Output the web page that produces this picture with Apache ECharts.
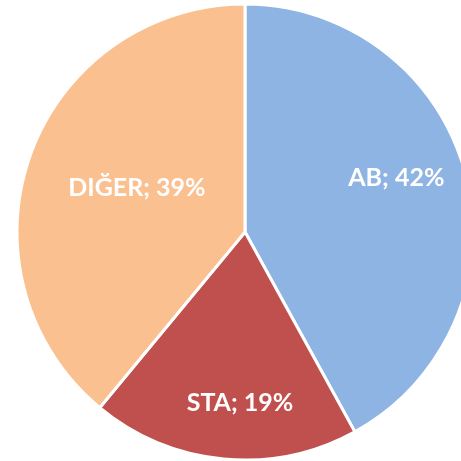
<!DOCTYPE html>
<html><head><meta charset="utf-8">
<script src="https://cdn.jsdelivr.net/npm/echarts@6/dist/echarts.min.js"></script>
<style>html,body{margin:0;padding:0;background:#fff}#c{width:461px;height:461px}</style>
</head><body><div id="c"></div>
<script>
var categories = ['AB', 'STA', 'DIĞER'];
var values = [42, 19, 39];
var colors = ['#8EB4E3', '#C0504D', '#FAC090'];
var labelOffsets = [[38, -25], [6, 54], [2, -4]];
var chart = echarts.init(document.getElementById('c'), null, {renderer: 'canvas'});
chart.setOption({
  animation: false,
  series: [{
    type: 'pie',
    center: [245, 232],
    radius: [0, 228],
    startAngle: 90,
    clockwise: true,
    data: categories.map(function (n, i) {
      return {name: n, value: values[i], itemStyle: {color: colors[i]}, label: {offset: labelOffsets[i]}};
    }),
    itemStyle: {borderColor: '#fff', borderWidth: 3},
    label: {
      position: 'inner',
      formatter: function (p) { return p.name + '; ' + p.value + '%'; },
      color: '#fff',
      fontFamily: 'Lato',
      fontWeight: 'bold',
      fontSize: 25
    },
    labelLine: {show: false},
    emphasis: {disabled: true}
  }]
});
</script></body></html>
